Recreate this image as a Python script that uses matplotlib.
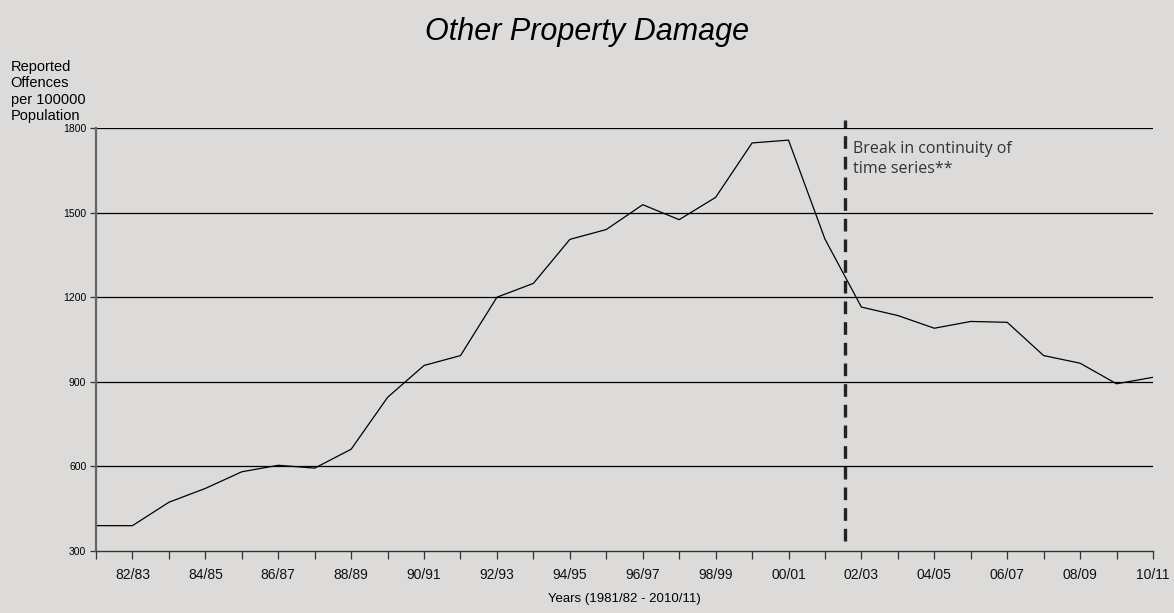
import matplotlib.pyplot as plt
import numpy as np

# reported offences per 100000 population, 1981/82 .. 2010/11
years = ["81/82", "82/83", "83/84", "84/85", "85/86", "86/87", "87/88", "88/89",
         "89/90", "90/91", "91/92", "92/93", "93/94", "94/95", "95/96", "96/97",
         "97/98", "98/99", "99/00", "00/01", "01/02", "02/03", "03/04", "04/05",
         "05/06", "06/07", "07/08", "08/09", "09/10", "10/11"]
rates = [390, 390, 473, 522, 581, 604, 594, 661, 845, 958, 993, 1200, 1249,
         1405, 1440, 1528, 1475, 1554, 1747, 1757, 1406, 1165, 1135, 1090,
         1114, 1111, 993, 966, 893, 916]
yticks = [300, 600, 900, 1200, 1500, 1800]
break_pos = 20.55  # between 01/02 and 02/03

bg = "#dcdbd9"
fig = plt.figure(figsize=(11.74, 6.13), dpi=100, facecolor=bg)
ax = fig.add_axes([0.0818, 0.1011, 0.9003, 0.6901], facecolor=bg)

x = np.arange(len(years))
ax.plot(x, rates, color="black", lw=0.9)

for y in yticks[1:]:
    ax.axhline(y, color="black", lw=0.9, zorder=1)

ax.plot([break_pos, break_pos], [335, 1830], color="#222222", lw=2.4,
        dashes=(3.8, 2.4), clip_on=False)
ax.text(break_pos + 0.22, 1755, "Break in continuity of\ntime series**",
        fontsize=11.5, family="Open Sans", color="#333333", va="top",
        linespacing=1.4)

ax.set_xlim(0, len(years) - 1)
ax.set_ylim(300, 1800)
ax.set_yticks(yticks)
ax.set_yticklabels([str(v) for v in yticks], fontsize=7.5, family="Liberation Sans")
ax.set_xticks(x)
ax.set_xticklabels([lab if i % 2 == 1 else "" for i, lab in enumerate(years)],
                   fontsize=10, family="Liberation Sans", color="#111111")
ax.tick_params(axis="x", length=6, width=0.9, color="#333333", pad=6)
ax.tick_params(axis="y", length=4, width=0.9, color="#333333", pad=3)

for side in ["top", "right"]:
    ax.spines[side].set_visible(False)
ax.spines["left"].set_color("#666666")
ax.spines["left"].set_linewidth(1.6)
ax.spines["bottom"].set_color("#333333")
ax.spines["bottom"].set_linewidth(1.0)

ax.set_xlabel("Years (1981/82 - 2010/11)", fontsize=9.5, family="Liberation Sans",
              labelpad=8)
fig.text(0.5, 0.948, "Other Property Damage", ha="center", va="center",
         fontsize=22, style="italic", family="Liberation Sans")
fig.text(0.009, 0.902, "Reported\nOffences\nper 100000\nPopulation", ha="left",
         va="top", fontsize=10.5, family="Liberation Sans", linespacing=1.22)

fig.savefig("out.png", dpi=100, facecolor=bg)
